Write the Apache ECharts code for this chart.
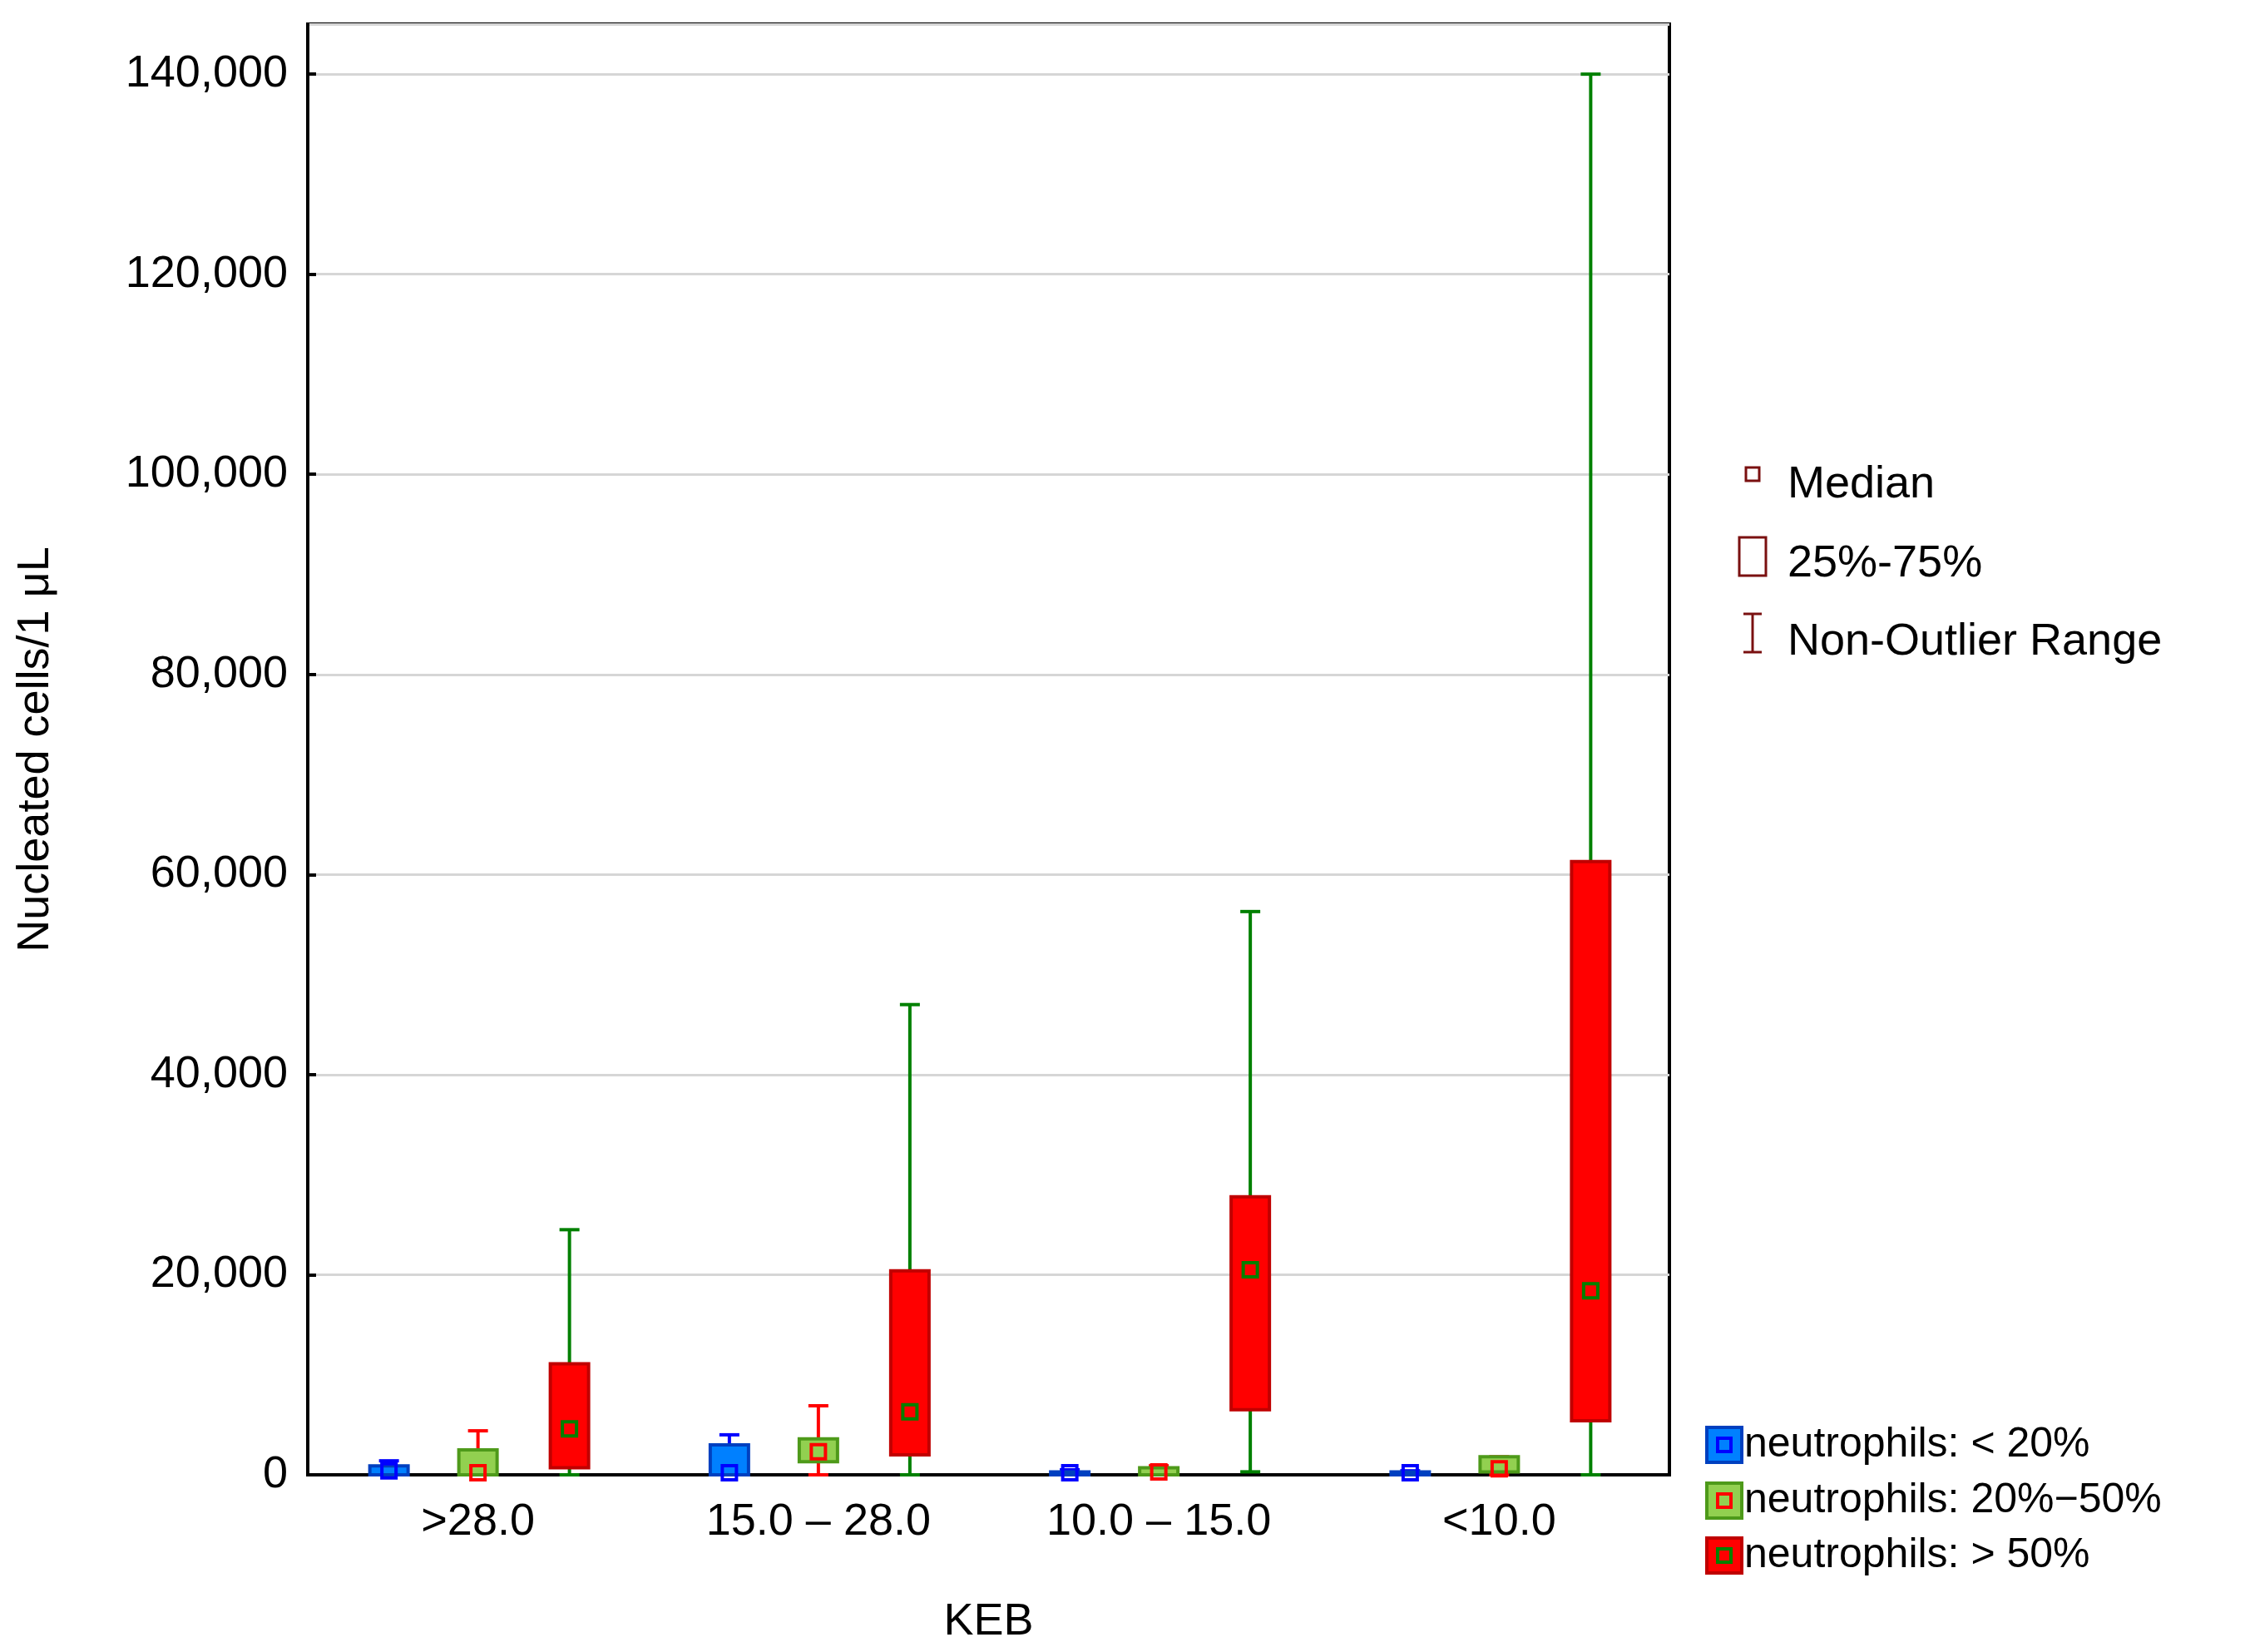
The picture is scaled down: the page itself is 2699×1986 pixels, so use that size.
<!DOCTYPE html>
<html><head><meta charset="utf-8">
<script src="https://cdn.jsdelivr.net/npm/echarts@6/dist/echarts.min.js"></script>
<style>html,body{margin:0;padding:0;background:#fff}#c{width:2699px;height:1986px}</style>
</head><body><div id="c"></div>
<script>
const categories = ['>28.0', '15.0 \u2013 28.0', '10.0 \u2013 15.0', '<10.0'];
const yTicks = [0, 20000, 40000, 60000, 80000, 100000, 120000, 140000];
// [min, Q1, median, Q3, max]
const lowNeut = [[0,0,400,900,1400],[0,0,200,3000,4000],[0,0,200,300,500],[0,0,200,300,400]];
const midNeut = [[0,0,200,2500,4400],[0,1300,2300,3600,6900],[0,0,300,700,900],[0,300,600,1800,1800]];
const highNeut = [[0,700,4600,11100,24500],[0,2000,6300,20400,47000],[300,6500,20500,27800,56300],[0,5400,18400,61300,140000]];
const seriesNames = ['neutrophils: < 20%','neutrophils: 20%\u221250%','neutrophils: > 50%'];

const styles = [
  {fill:'#0080FF', border:'#0040C0', whisker:'#0000FF', med:'#0000FF', off:-107},
  {fill:'#92D050', border:'#4E9A1A', whisker:'#FF0000', med:'#FF0000', off:0},
  {fill:'#FF0000', border:'#C00000', whisker:'#008000', med:'#008000', off:110}
];
const all = [lowNeut, midNeut, highNeut];

function mk(si){
  const st = styles[si];
  return {
    type:'custom', name:seriesNames[si],
    data: all[si].map((d,i)=>[i].concat(d)),
    encode:{x:0, y:[1,2,3,4,5]},
    renderItem:function(params, api){
      const c = api.value(0);
      const x = api.coord([c,0])[0] + st.off;
      const y = k => api.coord([c, api.value(k)])[1];
      const yMin=y(1), yQ1=y(2), yMed=y(3), yQ3=y(4), yMax=y(5);
      const bw=46, cw=24, ms=17;
      const ls={stroke:st.whisker, lineWidth:4};
      return {type:'group', children:[
        {type:'line', shape:{x1:x,y1:yMin,x2:x,y2:yMax}, style:ls},
        {type:'line', shape:{x1:x-cw/2,y1:yMax,x2:x+cw/2,y2:yMax}, style:ls},
        {type:'line', shape:{x1:x-cw/2,y1:yMin,x2:x+cw/2,y2:yMin}, style:ls},
        {type:'rect', shape:{x:x-bw/2,y:yQ3,width:bw,height:Math.max(yQ1-yQ3,1)}, style:{fill:st.fill, stroke:st.border, lineWidth:4}},
        {type:'rect', shape:{x:x-ms/2,y:yMed-ms/2,width:ms,height:ms}, style:{fill:null, stroke:st.med, lineWidth:4}}
      ]};
    }
  };
}

const F = 'Liberation Sans, Arial, sans-serif';
const chart = echarts.init(document.getElementById('c'));
const legendItems = [];
const ly = [1737,1804,1870];
styles.forEach((s,i)=>{
  legendItems.push({type:'rect', shape:{x:2052,y:ly[i]-21,width:42,height:42}, style:{fill:s.fill, stroke:s.border, lineWidth:4}});
  legendItems.push({type:'rect', shape:{x:2065,y:ly[i]-8,width:16,height:16}, style:{fill:null, stroke:s.med, lineWidth:4}});
  legendItems.push({type:'text', x:2097, y:ly[i], style:{text:seriesNames[i], font:'50px '+F, fill:'#000', textVerticalAlign:'middle'}});
});
const dk='#7A1010';
legendItems.push(
  {type:'rect', shape:{x:2099,y:562,width:16,height:16}, style:{fill:null, stroke:dk, lineWidth:3}},
  {type:'text', x:2149, y:583, style:{text:'Median', font:'54px '+F, fill:'#000', textVerticalAlign:'middle'}},
  {type:'rect', shape:{x:2091,y:646,width:32,height:46}, style:{fill:null, stroke:dk, lineWidth:3}},
  {type:'text', x:2149, y:678, style:{text:'25%-75%', font:'54px '+F, fill:'#000', textVerticalAlign:'middle'}},
  {type:'line', shape:{x1:2107,y1:738,x2:2107,y2:784}, style:{stroke:dk, lineWidth:3}},
  {type:'line', shape:{x1:2096,y1:738,x2:2118,y2:738}, style:{stroke:dk, lineWidth:3}},
  {type:'line', shape:{x1:2096,y1:784,x2:2118,y2:784}, style:{stroke:dk, lineWidth:3}},
  {type:'text', x:2149, y:772, style:{text:'Non-Outlier Range', font:'54px '+F, fill:'#000', textVerticalAlign:'middle'}}
);

chart.setOption({
  animation:false,
  backgroundColor:'#fff',
  grid:{left:370, right:2699-2007, top:29, bottom:1986-1773, show:true, borderColor:'#000', borderWidth:4, backgroundColor:'transparent'},
  xAxis:{type:'category', data:categories, name:'KEB', nameLocation:'middle', nameGap:150,
    nameTextStyle:{fontSize:54, fontFamily:F, color:'#000'},
    axisLine:{lineStyle:{color:'#000', width:4}},
    axisTick:{inside:true, alignWithLabel:true, length:10, lineStyle:{color:'#000',width:4}},
    axisLabel:{fontSize:54, fontFamily:F, color:'#000', margin:30}},
  yAxis:{type:'value', min:0, max:145000, interval:20000,
    name:'Nucleated cells/1 \u03bcL', nameLocation:'middle', nameGap:300, nameRotate:90,
    nameTextStyle:{fontSize:54, fontFamily:F, color:'#000'},
    axisLine:{show:true, lineStyle:{color:'#000', width:4}},
    axisTick:{show:true, inside:true, length:10, lineStyle:{color:'#000',width:4}},
    splitLine:{lineStyle:{color:'#D6D6D6', width:3}},
    axisLabel:{fontSize:54, fontFamily:F, color:'#000', margin:24, showMaxLabel:false,
      formatter:v=> yTicks.indexOf(v)>=0 ? v.toLocaleString('en-US') : ''}},
  series:[mk(0), mk(1), mk(2)],
  graphic:legendItems
});
</script></body></html>
